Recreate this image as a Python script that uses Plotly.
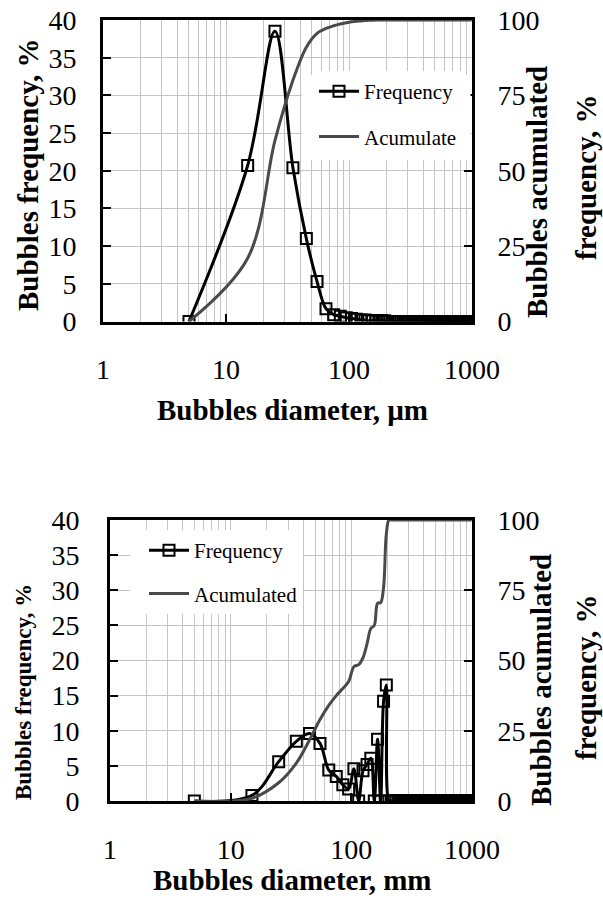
import plotly.graph_objects as go

# ---------------- data ----------------
diameter_top = [5, 15, 25, 35, 45, 55, 65, 75, 85, 95,
                105, 115, 125, 135, 145, 155, 165, 175, 185, 195,
                205, 215, 225, 235, 245, 255, 265, 275, 285, 295,
                305, 315, 325, 335, 345, 355, 365, 375, 385, 395,
                405, 415, 425, 435, 445, 455, 465, 475, 485, 495,
                505, 515, 525, 535, 545, 555, 565, 575, 585, 595,
                605, 615, 625, 635, 645, 655, 665, 675, 685, 695,
                705, 715, 725, 735, 745, 755, 765, 775, 785, 795,
                805, 815, 825, 835, 845, 855, 865, 875, 885, 895,
                905, 915, 925, 935, 945, 955, 965, 975, 985, 995]
freq_top = [0, 20.7, 38.5, 20.4, 11.0, 5.3, 1.7, 0.9, 0.7, 0.5,
            0.4, 0.3, 0.2, 0.2, 0.1, 0.1, 0.1, 0.1, 0.1, 0.1,
            0, 0, 0, 0, 0, 0, 0, 0, 0, 0,
            0, 0, 0, 0, 0, 0, 0, 0, 0, 0,
            0, 0, 0, 0, 0, 0, 0, 0, 0, 0,
            0, 0, 0, 0, 0, 0, 0, 0, 0, 0,
            0, 0, 0, 0, 0, 0, 0, 0, 0, 0,
            0, 0, 0, 0, 0, 0, 0, 0, 0, 0,
            0, 0, 0, 0, 0, 0, 0, 0, 0, 0,
            0, 0, 0, 0, 0, 0, 0, 0, 0, 0]
cum_top = [0, 21, 60, 80, 91, 95.6, 97.2, 98.1, 98.7, 99.1,
           99.4, 99.6, 99.7, 99.8, 99.9, 99.9, 100, 100, 100, 100,
           100, 100, 100, 100, 100, 100, 100, 100, 100, 100,
           100, 100, 100, 100, 100, 100, 100, 100, 100, 100,
           100, 100, 100, 100, 100, 100, 100, 100, 100, 100,
           100, 100, 100, 100, 100, 100, 100, 100, 100, 100,
           100, 100, 100, 100, 100, 100, 100, 100, 100, 100,
           100, 100, 100, 100, 100, 100, 100, 100, 100, 100,
           100, 100, 100, 100, 100, 100, 100, 100, 100, 100,
           100, 100, 100, 100, 100, 100, 100, 100, 100, 100]

diameter_bot = diameter_top
freq_bot = [0, 0.8, 5.6, 8.5, 9.6, 8.2, 4.4, 3.5, 2.3, 1.7,
            4.6, 0, 4.3, 5.2, 6.1, 0, 8.8, 0, 14.2, 16.5,
            0, 0, 0, 0, 0, 0, 0, 0, 0, 0,
            0, 0, 0, 0, 0, 0, 0, 0, 0, 0,
            0, 0, 0, 0, 0, 0, 0, 0, 0, 0,
            0, 0, 0, 0, 0, 0, 0, 0, 0, 0,
            0, 0, 0, 0, 0, 0, 0, 0, 0, 0,
            0, 0, 0, 0, 0, 0, 0, 0, 0, 0,
            0, 0, 0, 0, 0, 0, 0, 0, 0, 0,
            0, 0, 0, 0, 0, 0, 0, 0, 0, 0]
cum_bot = [0, 1.0, 6.5, 13.5, 21.7, 29, 34, 37.5, 40, 42.5,
           47.8, 48.5, 51, 56, 61.4, 62.5, 70.4, 70.6, 76, 95,
           100, 100, 100, 100, 100, 100, 100, 100, 100, 100,
           100, 100, 100, 100, 100, 100, 100, 100, 100, 100,
           100, 100, 100, 100, 100, 100, 100, 100, 100, 100,
           100, 100, 100, 100, 100, 100, 100, 100, 100, 100,
           100, 100, 100, 100, 100, 100, 100, 100, 100, 100,
           100, 100, 100, 100, 100, 100, 100, 100, 100, 100,
           100, 100, 100, 100, 100, 100, 100, 100, 100, 100,
           100, 100, 100, 100, 100, 100, 100, 100, 100, 100]

x_tickvals = [1, 10, 100, 1000]
x_ticktext = ["1", "10", "100", "1000"]
left_tickvals = [0, 5, 10, 15, 20, 25, 30, 35, 40]
right_tickvals = [0, 25, 50, 75, 100]

# ---------------- style ----------------
W, H = 603, 898
FONT = "Liberation Serif"
GRID = "#c4c4c4"
GRAY = "#4a4a4a"
TICKFONT = dict(family=FONT, size=28, color="black")


def px_x(p):
    return p / W


def px_y(p):
    return 1 - p / H


fig = go.Figure()

# top chart
fig.add_trace(go.Scatter(
    x=diameter_top, y=freq_top, name="Frequency", xaxis="x", yaxis="y",
    mode="lines+markers", line=dict(color="black", width=3, shape="spline", smoothing=1),
    marker=dict(symbol="square-open", size=11, color="black", line=dict(width=2)),
    legend="legend", legendgroup="a"))
fig.add_trace(go.Scatter(
    x=diameter_top, y=cum_top, name="Acumulate", xaxis="x", yaxis="y2",
    mode="lines", line=dict(color=GRAY, width=3, shape="spline", smoothing=1),
    legend="legend", legendgroup="b"))

# bottom chart
fig.add_trace(go.Scatter(
    x=diameter_bot, y=freq_bot, name="Frequency", xaxis="x2", yaxis="y3",
    mode="lines+markers", line=dict(color="black", width=3, shape="spline", smoothing=1),
    marker=dict(symbol="square-open", size=11, color="black", line=dict(width=2)),
    legend="legend2", legendgroup="c"))
fig.add_trace(go.Scatter(
    x=diameter_bot, y=cum_bot, name="Acumulated", xaxis="x2", yaxis="y4",
    mode="lines", line=dict(color=GRAY, width=3, shape="spline", smoothing=1),
    legend="legend2", legendgroup="d"))


def xaxis_cfg(domain, anchor):
    return dict(
        type="log", range=[0, 3], domain=domain, anchor=anchor, automargin=False,
        tickmode="array", tickvals=x_tickvals, ticktext=x_ticktext,
        ticks="inside", ticklen=8, tickwidth=1.5, tickcolor="black",
        tickfont=TICKFONT, ticklabelstandoff=21,
        showgrid=True, gridcolor=GRID, gridwidth=1,
        minor=dict(dtick="D1", showgrid=True, gridcolor=GRID, gridwidth=1, ticks=""),
        showline=True, linecolor="black", linewidth=3, mirror=True,
        zeroline=False, fixedrange=True)


def yleft_cfg(domain, anchor, standoff):
    return dict(
        range=[0, 40], domain=domain, anchor=anchor, automargin=False,
        tickmode="array", tickvals=left_tickvals,
        ticks="inside", ticklen=8, tickwidth=1.5, tickcolor="black",
        tickfont=TICKFONT, ticklabelstandoff=standoff,
        showgrid=True, gridcolor=GRID, gridwidth=1,
        showline=True, linecolor="black", linewidth=3, mirror=True,
        zeroline=False, fixedrange=True)


def yright_cfg(overlay, anchor):
    return dict(
        range=[0, 100], overlaying=overlay, side="right", anchor=anchor, automargin=False,
        tickmode="array", tickvals=right_tickvals,
        ticks="inside", ticklen=8, tickwidth=1.5, tickcolor="black",
        tickfont=TICKFONT, ticklabelstandoff=17,
        showgrid=False, showline=True, linecolor="black", linewidth=3,
        zeroline=False, fixedrange=True)


top_xdom = [px_x(103), px_x(472)]
top_ydom = [px_y(321.5), px_y(20)]
bot_xdom = [px_x(110), px_x(472)]
bot_ydom = [px_y(801), px_y(520)]

legend_font = dict(family=FONT, size=21, color="black")


def title_ann(text, x, y, size, angle=0):
    return dict(text="<b>" + text + "</b>", x=px_x(x), y=px_y(y), xref="paper", yref="paper",
                xanchor="center", yanchor="middle", textangle=angle, showarrow=False,
                font=dict(family=FONT, size=size, color="black"))


fig.update_layout(
    template="none",
    width=W, height=H,
    margin=dict(l=0, r=0, t=0, b=0, pad=0),
    paper_bgcolor="white", plot_bgcolor="white",
    showlegend=True,
    xaxis=xaxis_cfg(top_xdom, "y"),
    yaxis=yleft_cfg(top_ydom, "x", 18),
    yaxis2=yright_cfg("y", "x"),
    xaxis2=xaxis_cfg(bot_xdom, "y3"),
    yaxis3=yleft_cfg(bot_ydom, "x2", 22),
    yaxis4=yright_cfg("y3", "x2"),
    legend=dict(x=px_x(314), y=px_y(71), xanchor="left", yanchor="top",
                bgcolor="white", font=legend_font,
                traceorder="grouped", tracegroupgap=15, itemwidth=40),
    legend2=dict(x=px_x(144), y=px_y(530), xanchor="left", yanchor="top",
                 bgcolor="white", font=legend_font,
                 traceorder="grouped", tracegroupgap=13, itemwidth=40),
    shapes=[
        dict(type="rect", xref="paper", yref="paper",
             x0=px_x(302), x1=px_x(470.5), y0=px_y(160), y1=px_y(75),
             fillcolor="white", line=dict(width=0), layer="above"),
        dict(type="rect", xref="paper", yref="paper",
             x0=px_x(130), x1=px_x(303), y0=px_y(614), y1=px_y(535),
             fillcolor="white", line=dict(width=0), layer="above"),
    ],
    annotations=[
        title_ann("Bubbles diameter, µm", 292, 410, 29),
        title_ann("Bubbles diameter, mm", 292, 880, 29),
        title_ann("Bubbles frequency, %", 28, 175, 29, -90),
        title_ann("Bubbles frequency, %", 23, 692, 23, -90),
        title_ann("Bubbles acumulated", 537, 192, 29, -90),
        title_ann("frequency, %", 586, 178, 29, -90),
        title_ann("Bubbles acumulated", 541, 680, 29, -90),
        title_ann("frequency, %", 586, 678, 29, -90),
    ],
)

fig.write_html("out.html", post_script="document.body.style.margin='0';",
               config={"displayModeBar": False})
